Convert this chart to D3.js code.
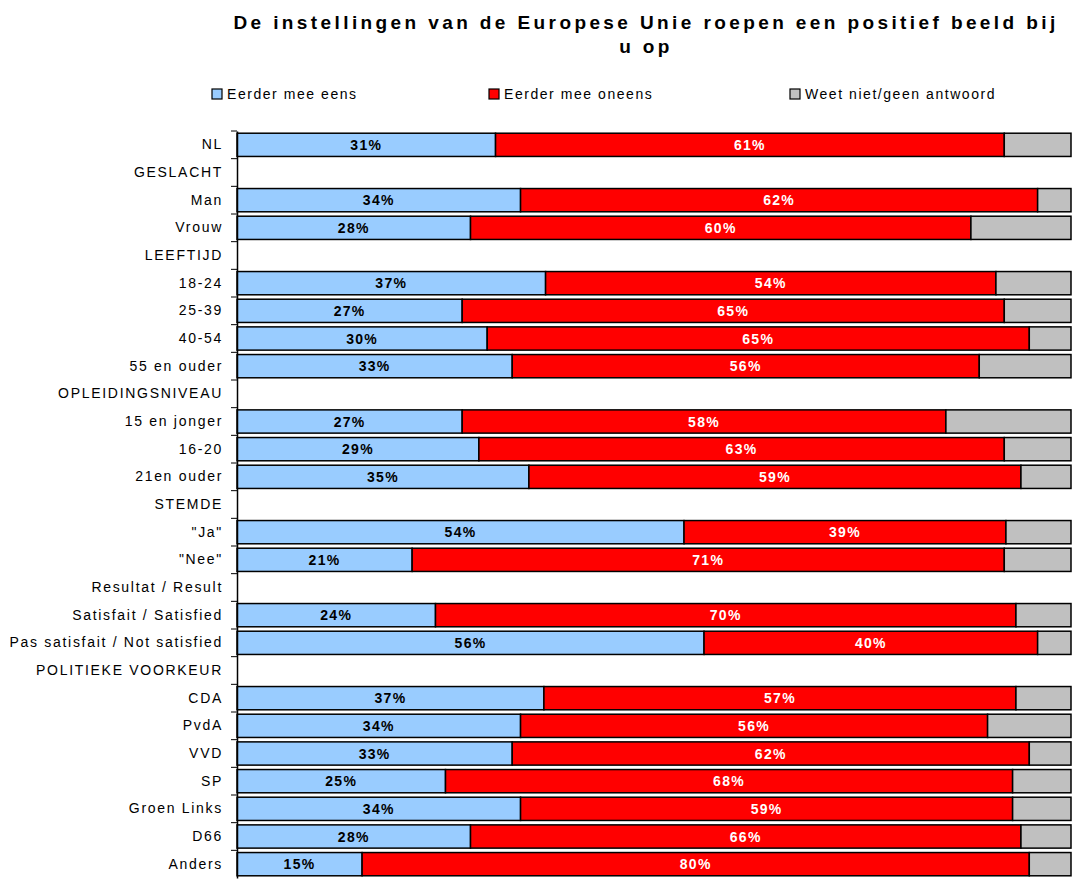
<!DOCTYPE html>
<html>
<head>
<meta charset="utf-8">
<script src="https://cdn.jsdelivr.net/npm/d3@7"></script>
<style>
  body { margin: 0; background: #fff; }
  text { font-family: "Liberation Sans", Arial, sans-serif; }
</style>
</head>
<body>
<svg width="1075" height="879"></svg>
<script>
// row labels, top to bottom (section headers have no bars)
var categories = ["NL", "GESLACHT", "Man", "Vrouw", "LEEFTIJD", "18-24", "25-39", "40-54",
    "55 en ouder", "OPLEIDINGSNIVEAU", "15 en jonger", "16-20", "21en ouder", "STEMDE",
    "\"Ja\"", "\"Nee\"", "Resultat / Result", "Satisfait / Satisfied",
    "Pas satisfait / Not satisfied", "POLITIEKE VOORKEUR", "CDA", "PvdA", "VVD", "SP",
    "Groen Links", "D66", "Anders"];

var eens   = [31, null, 34, 28, null, 37, 27, 30, 33, null, 27, 29, 35, null, 53.6, 21, null, 23.8, 56, null, 36.8, 34, 33, 25, 34, 28, 15];
var oneens = [61, null, 62, 60, null, 54, 65, 65, 56, null, 58, 63, 59, null, 38.6, 71, null, 69.6, 40, null, 56.6, 56, 62, 68, 59, 66, 80];
var weetNiet = [8, null, 4, 12, null, 9, 8, 5, 11, null, 15, 8, 6, null, 7.8, 8, null, 6.6, 4, null, 6.6, 10, 5, 7, 7, 6, 5];

var seriesNames = ["Eerder mee eens", "Eerder mee oneens", "Weet niet/geen antwoord"];
var seriesColors = ["#99CCFF", "#FF0000", "#C0C0C0"];

var svg = d3.select("svg");

var margin = {left: 237, right: 4, top: 131, bottom: 1};
var width = 1075, height = 879;

var x = d3.scaleLinear().domain([0, 100]).range([margin.left, width - margin.right]);
var y = d3.scaleBand().domain(categories).range([margin.top, height - margin.bottom]).paddingInner(0.16).paddingOuter(0.08);

// title
var title = svg.append("text")
    .attr("text-anchor", "middle")
    .style("font-size", "19px")
    .style("font-weight", "bold")
    .style("letter-spacing", "3.4px");
title.append("tspan").attr("x", 646).attr("y", 29).text("De instellingen van de Europese Unie roepen een positief beeld bij");
title.append("tspan").attr("x", 646).attr("y", 53).text("u op");

// legend
var legendX = [212, 489, 790];
var legend = svg.selectAll(".legend")
    .data(seriesNames)
    .enter().append("g")
    .attr("class", "legend")
    .attr("transform", function(d, i) { return "translate(" + legendX[i] + ",89)"; });

legend.append("rect")
    .attr("width", 10)
    .attr("height", 10)
    .attr("fill", function(d, i) { return seriesColors[i]; })
    .attr("stroke", "#000")
    .attr("stroke-width", 1.2);

legend.append("text")
    .attr("x", 15)
    .attr("y", 10)
    .style("font-size", "14px")
    .style("letter-spacing", "1.55px")
    .text(function(d) { return d; });

// stacked rows
var rows = categories.map(function(c, i) {
    return {cat: c, vals: [eens[i], oneens[i], weetNiet[i]]};
}).filter(function(r) { return r.vals[0] != null; });

var rowG = svg.append("g").selectAll("g")
    .data(rows)
    .enter().append("g");

rowG.each(function(r) {
    var g = d3.select(this);
    var start = 0;
    r.vals.forEach(function(v, k) {
        var x0 = x(start), x1 = x(start + v);
        g.append("rect")
            .attr("x", x0)
            .attr("y", y(r.cat))
            .attr("width", x1 - x0)
            .attr("height", y.bandwidth())
            .attr("fill", seriesColors[k])
            .attr("stroke", "#000")
            .attr("stroke-width", 1.5);
        if (k < 2) {
            g.append("text")
                .attr("x", (x0 + x1) / 2)
                .attr("y", y(r.cat) + y.bandwidth() / 2)
                .attr("dy", "0.36em")
                .attr("text-anchor", "middle")
                .style("font-size", "14px")
                .style("font-weight", "bold")
                .style("letter-spacing", "1.3px")
                .attr("fill", k == 0 ? "#000" : "#fff")
                .text(Math.round(v) + "%");
        }
        start += v;
    });
});

// category axis
var yAxis = d3.axisLeft(y).tickSize(0).tickPadding(14);
var axisG = svg.append("g")
    .attr("transform", "translate(" + margin.left + ",0)")
    .call(yAxis);
axisG.select(".domain").attr("stroke", "#000").attr("stroke-width", 1.5);
axisG.selectAll("text")
    .style("font-size", "14px")
    .style("letter-spacing", "1.7px")
    .attr("fill", "#000");

// small tick marks between rows
var step = y.step();
var boundaries = d3.range(categories.length).map(function(i) { return y(categories[i]) - step * y.paddingInner() / 2; });
svg.append("g").selectAll("line")
    .data(boundaries)
    .enter().append("line")
    .attr("x1", margin.left - 6)
    .attr("x2", margin.left)
    .attr("y1", function(d) { return d; })
    .attr("y2", function(d) { return d; })
    .attr("stroke", "#000")
    .attr("stroke-width", 1);
</script>
</body>
</html>
